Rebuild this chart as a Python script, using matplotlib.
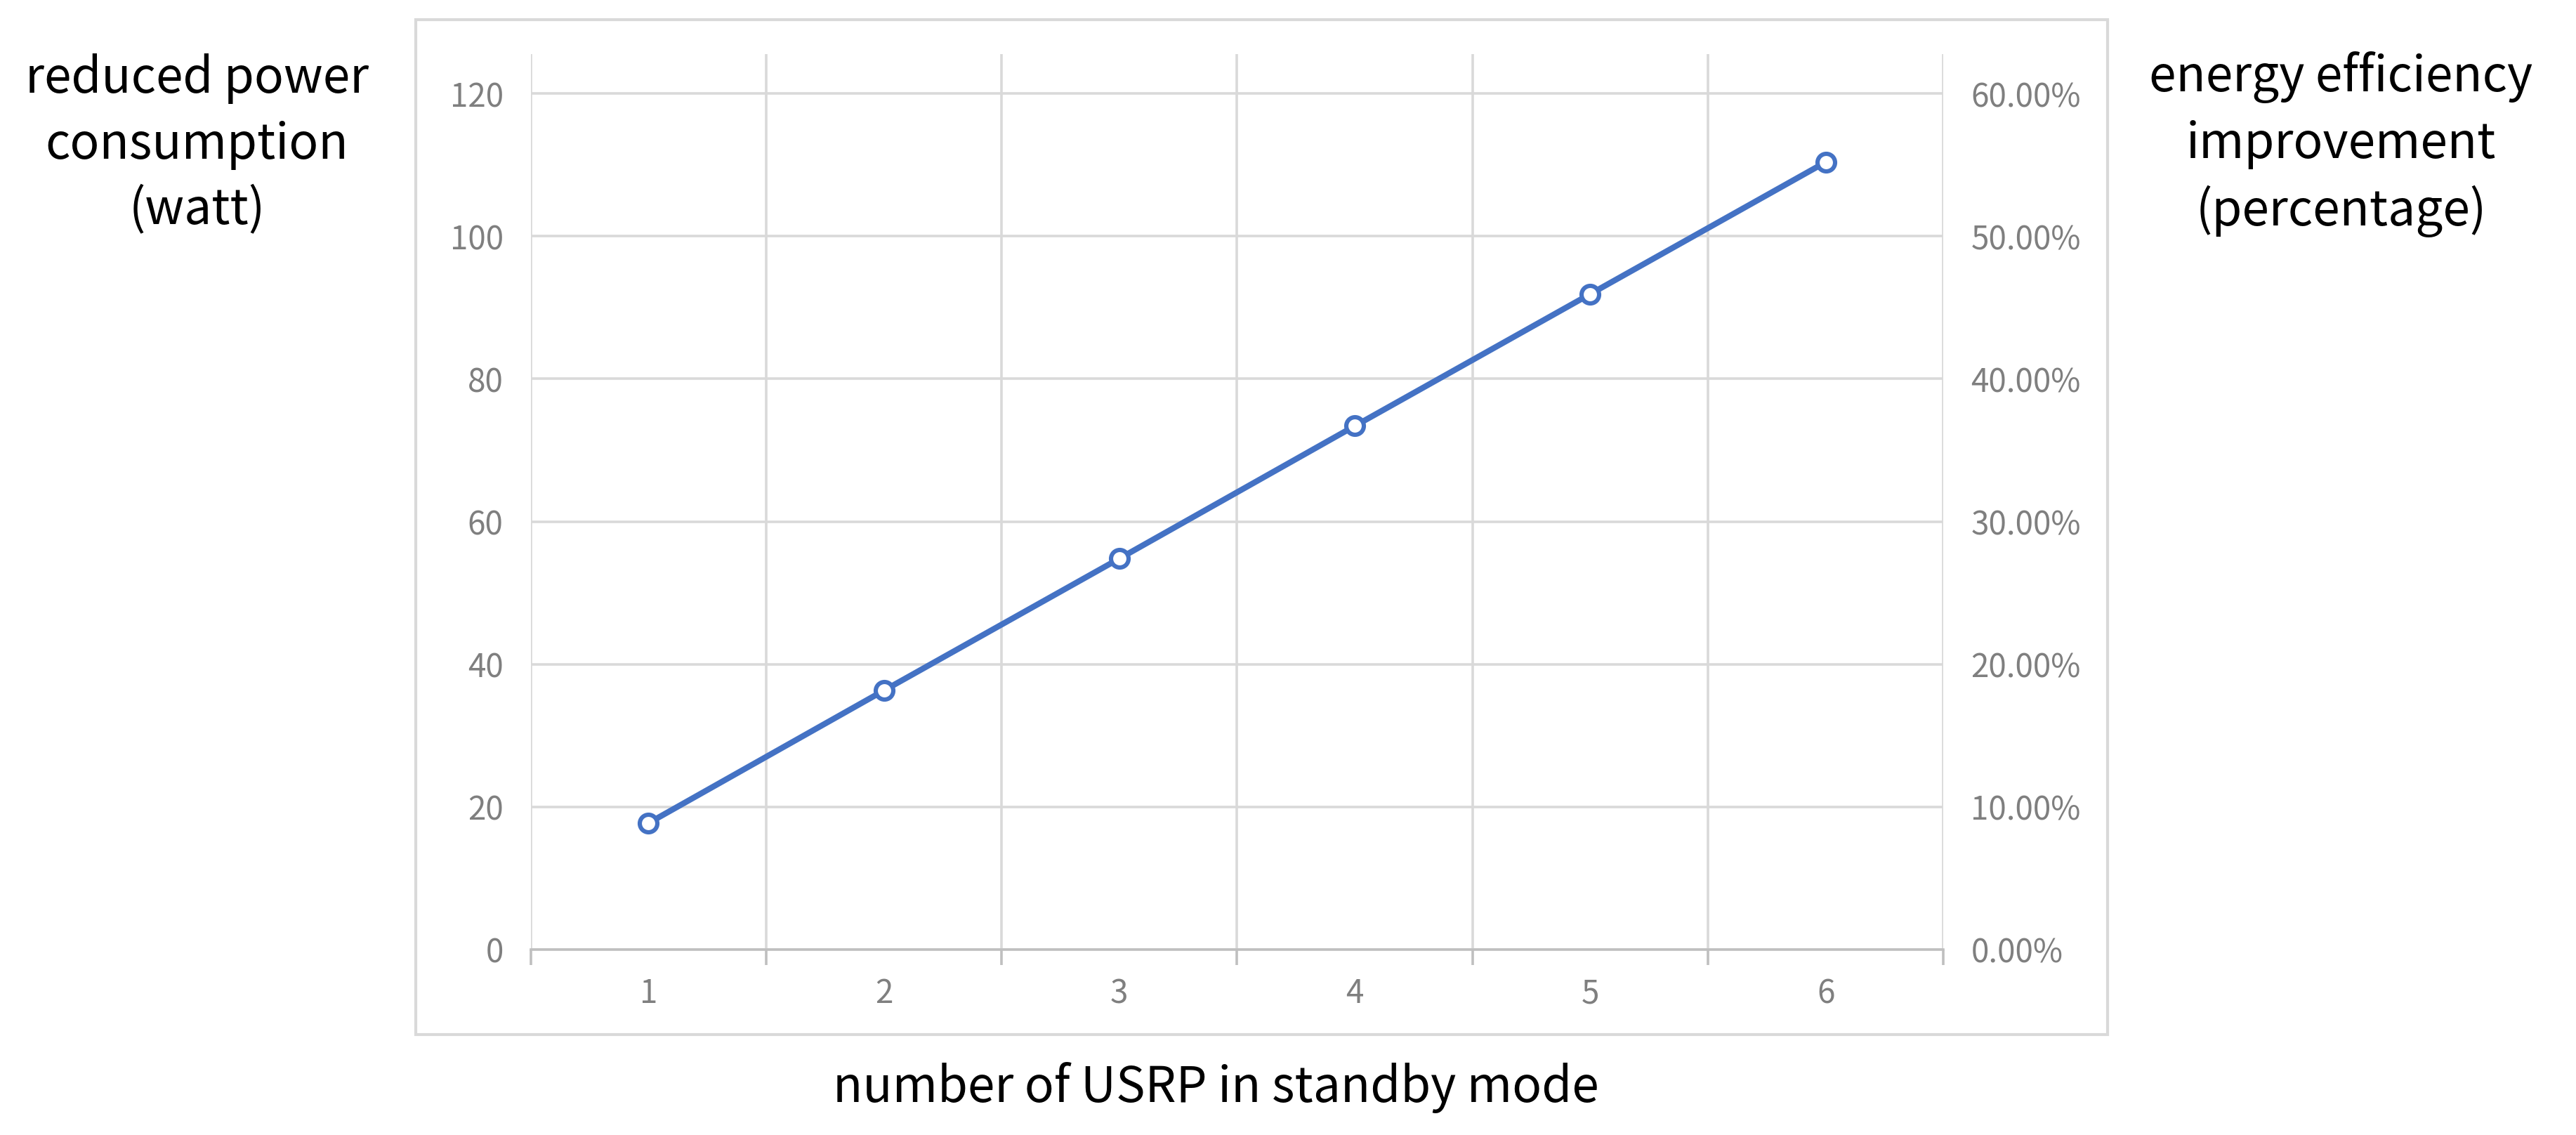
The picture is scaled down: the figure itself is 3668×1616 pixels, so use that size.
import matplotlib.pyplot as plt
from matplotlib.patches import Rectangle
from matplotlib.ticker import FuncFormatter

plt.rcParams['font.family'] = ['Noto Sans CJK SC', 'DejaVu Sans']

usrp = [1, 2, 3, 4, 5, 6]
power = [17.7, 36.3, 54.8, 73.4, 91.9, 110.4]
left_ticks = [0, 20, 40, 60, 80, 100, 120]
right_ticks = [0, 10, 20, 30, 40, 50, 60]

W, H = 1568, 691  # reference layout units
fig = plt.figure(figsize=(18.34, 8.08), dpi=200)
ax = fig.add_axes([323 / W, 1 - 578 / H, (1183 - 323) / W, (578 - 33) / H])

# chart frame
fig.patches.append(Rectangle((253 / W, 1 - 630 / H), 1030 / W, 618 / H,
                             transform=fig.transFigure, fill=False,
                             edgecolor='#d9d9d9', linewidth=1.5))

ax.plot(usrp, power, color='#4472c4', linewidth=3, marker='o', markersize=9,
        markerfacecolor='white', markeredgecolor='#4472c4', markeredgewidth=2.2, zorder=3)

ax.set_xlim(0.5, 6.5)
ax.set_ylim(0, 120 * 545 / 521)
ax.set_xticks(usrp)
ax.set_xticks([0.5 + i for i in range(7)], minor=True)
ax.set_yticks(left_ticks)
ax.grid(True, which='minor', axis='x', color='#d9d9d9', linewidth=1.3)
ax.grid(True, which='major', axis='y', color='#d9d9d9', linewidth=1.3)
ax.tick_params(axis='x', which='major', length=0, pad=14, labelsize=16.5, labelcolor='#7f7f7f')
ax.tick_params(axis='x', which='minor', length=8, color='#bfbfbf', width=1.3)
ax.tick_params(axis='y', length=0, pad=14, labelsize=16.5, labelcolor='#7f7f7f')
for s in ['top', 'right', 'left']:
    ax.spines[s].set_visible(False)
ax.spines['bottom'].set_color('#bfbfbf')
ax.spines['bottom'].set_linewidth(1.3)

ax2 = ax.twinx()
ax2.set_ylim(0, 60 * 545 / 521)
ax2.set_yticks(right_ticks)
ax2.yaxis.set_major_formatter(FuncFormatter(lambda v, p: f'{v:.2f}%'))
ax2.tick_params(axis='y', length=0, pad=14, labelsize=16.5, labelcolor='#7f7f7f')
for s in ax2.spines.values():
    s.set_visible(False)

fig.text(120 / W, 1 - 88 / H, 'reduced power\nconsumption\n(watt)', ha='center', va='center',
         fontsize=25, linespacing=1.4)
fig.text(1425 / W, 1 - 88 / H, 'energy efficiency\nimprovement\n(percentage)', ha='center', va='center',
         fontsize=25, linespacing=1.4)
fig.text(740 / W, 1 - 662 / H, 'number of USRP in standby mode', ha='center', va='center', fontsize=25)

fig.savefig('out.png')
